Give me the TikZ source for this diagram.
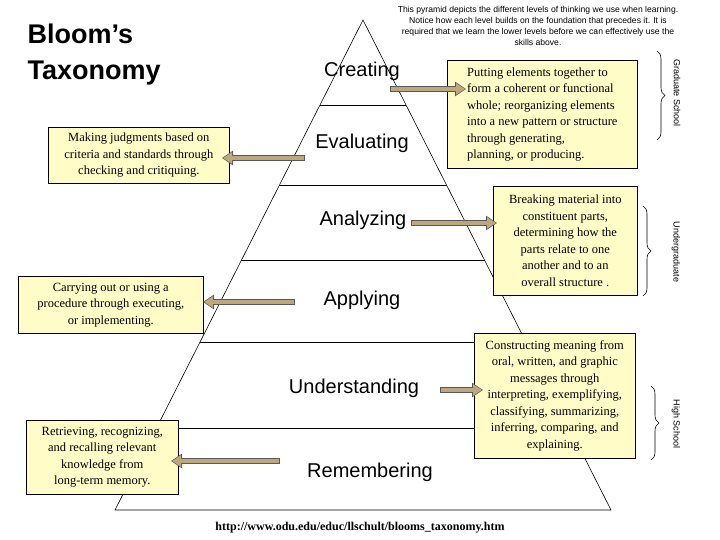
\documentclass[tikz,border=0pt]{standalone}
\usepackage{fontspec}
\setmainfont{Liberation Serif}
\newfontfamily\arialf{Liberation Sans}
\usetikzlibrary{arrows.meta,decorations.pathreplacing,calc}
\definecolor{boxfill}{HTML}{FFFCC8}
\definecolor{tanc}{HTML}{BCA77E}
\begin{document}
\begin{tikzpicture}[x=1pt,y=-1pt,
  desc/.style={draw,fill=boxfill,line width=0.6pt,font=\fontsize{12.5}{16.5}\selectfont,align=center,inner sep=3pt,anchor=north west},
  lvl/.style={font=\arialf\fontsize{20}{24}\selectfont},
  arrowout/.style={line width=6pt,draw=black!65,-{Triangle[length=11pt,width=14pt]}},
  arrowin/.style={line width=4pt,draw=tanc,shorten <=1pt,-{Triangle[length=9pt,width=11pt]}},
  brace/.style={decorate,decoration={brace,amplitude=8pt},line width=0.6pt},
  side/.style={font=\arialf\fontsize{9}{10}\selectfont,rotate=-90}]
\useasboundingbox (0,0) rectangle (720,540);
% pyramid
\coordinate (apex) at (363,20);
\coordinate (bl) at (115,510);
\coordinate (br) at (611,510);
\draw[line width=0.6pt] (bl) -- (apex) -- (br) -- cycle;
\foreach \yy in {105,185,260,342,428}{
  \pgfmathsetmacro\hw{0.507*(\yy-20)}
  \draw[line width=0.6pt] (363-\hw,\yy) -- (363+\hw,\yy);
}
% title and notes
\node[font=\arialf\bfseries\fontsize{27}{36}\selectfont,align=left,anchor=north west] (title) at (24,20) {Bloom’s\\Taxonomy};
\node[font=\arialf\fontsize{8.6}{11}\selectfont,align=center] (note) at (538,26) {This pyramid depicts the different levels of thinking we use when learning.\\Notice how  each level builds on the foundation that precedes it.  It is\\required that we learn the lower levels before we can effectively use the\\skills above.};
\node[font=\bfseries\fontsize{12}{14}\selectfont] (url) at (360,528) {http://www.odu.edu/educ/llschult/blooms\_taxonomy.htm};
% level labels
\node[lvl] (cre) at (362,71) {Creating};
\node[lvl] (eva) at (362,143) {Evaluating};
\node[lvl] (ana) at (363,220) {Analyzing};
\node[lvl] (app) at (362,300) {Applying};
\node[lvl] (und) at (354,388) {Understanding};
\node[lvl] (rem) at (370,472) {Remembering};
% description boxes
\node[desc,minimum width=190pt,minimum height=108pt,align=left] (dcre) at (447,60) {Putting elements together to\\form a coherent or functional\\whole; reorganizing elements\\into a new pattern or structure\\through generating,\\planning, or producing.};
\node[desc,minimum width=181pt,minimum height=56pt] (deva) at (48,127) {Making judgments based on\\criteria and standards through\\checking and critiquing.};
\node[desc,minimum width=144pt,minimum height=109pt] (dana) at (493,186) {Breaking material into\\constituent parts,\\determining how the\\parts relate to one\\another and to an\\overall structure .};
\node[desc,minimum width=185pt,minimum height=57pt] (dapp) at (18,276) {Carrying out or using a\\procedure through executing,\\or implementing.};
\node[desc,minimum width=161pt,minimum height=125pt] (dund) at (474,333) {Constructing meaning from\\oral, written, and graphic\\messages through\\interpreting, exemplifying,\\classifying, summarizing,\\inferring, comparing, and\\explaining.};
\node[desc,minimum width=152pt,minimum height=74pt] (drem) at (26,420) {Retrieving, recognizing,\\and recalling relevant\\knowledge from\\long-term memory.};
% arrows
\coordinate (a1s) at (390,89); \coordinate (a1e) at (466,89);
\coordinate (a2s) at (305,158); \coordinate (a2e) at (222,158);
\coordinate (a3s) at (411,223); \coordinate (a3e) at (497,223);
\coordinate (a4s) at (295,302); \coordinate (a4e) at (203,302);
\coordinate (a5s) at (440,390); \coordinate (a5e) at (483,390);
\coordinate (a6s) at (280,461); \coordinate (a6e) at (171,461);
\foreach \s/\e in {a1s/a1e,a2s/a2e,a3s/a3e,a4s/a4e,a5s/a5e,a6s/a6e}{
  \draw[arrowout] (\s) -- (\e);
  \draw[arrowin] (\s) -- ($(\e)!1pt!(\s)$);
}
% braces
\coordinate (b1t) at (657,51); \coordinate (b1b) at (657,140);
\coordinate (b2t) at (643,206); \coordinate (b2b) at (643,296);
\coordinate (b3t) at (651,386); \coordinate (b3b) at (651,460);
\draw[brace] (b1t) -- (b1b);
\draw[brace] (b2t) -- (b2b);
\draw[brace] (b3t) -- (b3b);
\node[side] (grad) at (677,93) {Graduate School};
\node[side] (under) at (676,252) {Undergraduate};
\node[side] (high) at (676,424) {High School};
\end{tikzpicture}
\end{document}
